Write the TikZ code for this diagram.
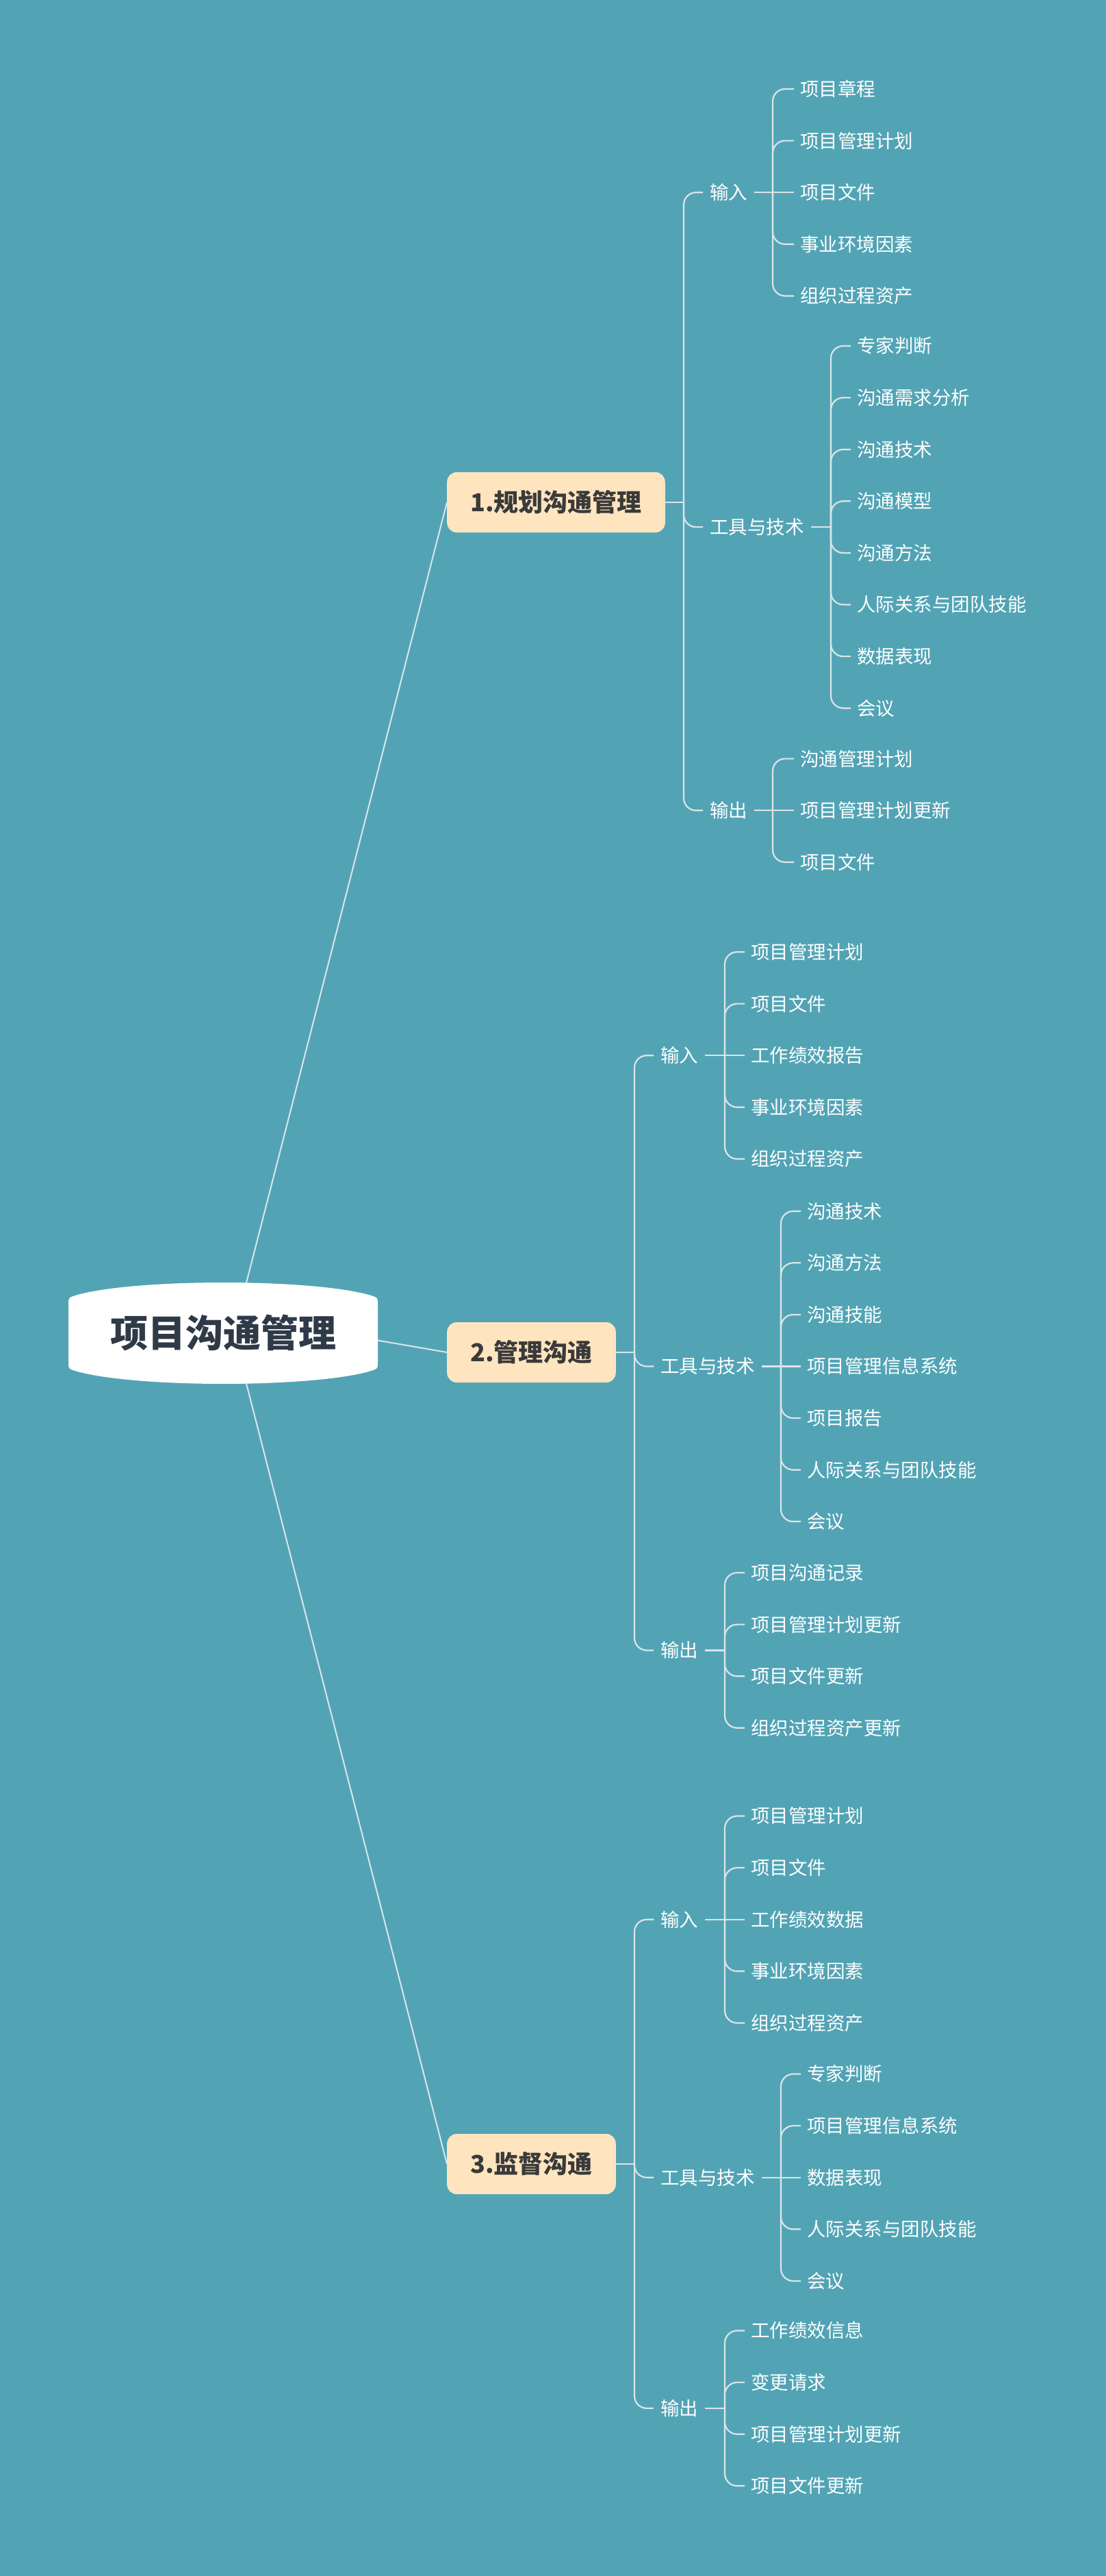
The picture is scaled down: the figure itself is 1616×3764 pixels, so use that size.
\documentclass[tikz,border=0pt]{standalone}
\usepackage{fontspec}
\newfontfamily\cjk{Noto Sans CJK SC}
\definecolor{bgc}{HTML}{52A4B5}
\definecolor{linec}{HTML}{DDE4E8}
\definecolor{brfill}{HTML}{FFE5BF}
\definecolor{brtext}{HTML}{3A3A3A}
\definecolor{roottext}{HTML}{2F3A48}
\tikzset{
  leaf/.style={anchor=west, text=white, font=\cjk\fontsize{27.5}{30}\selectfont,
    inner xsep=9pt, inner ysep=2pt, text height=24.2pt, text depth=3.3pt},
  midlabel/.style={leaf, inner xsep=10pt},
  branch/.style={anchor=west, fill=brfill, text=brtext, rounded corners=14pt,
    font=\cjk\bfseries\fontsize{36}{40}\selectfont, inner xsep=34pt, inner ysep=0pt,
    minimum height=88pt, text height=31.7pt, text depth=4.3pt},
  rootlabel/.style={text=roottext, font=\cjk\bfseries\fontsize{55}{60}\selectfont,
    text height=48.4pt, text depth=6.6pt, inner sep=0pt},
  link/.style={draw=linec, line width=2.2pt},
  elb/.style={link, rounded corners=18pt},
  mainlink/.style={draw=linec, line width=2pt}
}
\newcommand\elbow[3]{\draw[elb] (#1,#2) |- (#3.west);}
\newcommand\straight[3]{\draw[link] (#1,#2) -- (#3.west);}
\begin{document}
\begin{tikzpicture}[x=1pt,y=-1pt]
\fill[bgc] (0,0) rectangle (1616,3764);
\useasboundingbox (0,0) rectangle (1616,3764);

% ---------- branch nodes ----------
\node[branch] (b1) at (653,734) {1.规划沟通管理};
\node[branch] (b2) at (653,1976) {2.管理沟通};
\node[branch] (b3) at (653,3162) {3.监督沟通};

% ---------- root connectors (drawn beneath root) ----------
\coordinate (rc) at (341,1948);
\coordinate (rc2) at (520,1953);
\draw[mainlink] (rc) -- (b1.west);
\draw[mainlink] (rc2) -- (b2.west);
\draw[mainlink] (rc) -- (b3.west);

% ---------- root node ----------
\fill[white] (100,1905) -- (100,1991)
  .. controls (100,2000) .. (113,2004)
  .. controls (200,2028) and (452,2028) .. (539,2004)
  .. controls (552,2000) .. (552,1991)
  -- (552,1905)
  .. controls (552,1896) .. (539,1892)
  .. controls (452,1868) and (200,1868) .. (113,1892)
  .. controls (100,1896) .. (100,1905) -- cycle;
\node[rootlabel] (root) at (326,1948) {项目沟通管理};

% =================== Branch 1 ===================
\node[midlabel] (in1) at (1027,281.2) {输入};
\node[midlabel] (tt1) at (1027,770.1) {工具与技术};
\node[midlabel] (out1) at (1027,1184.2) {输出};
\draw[link] (b1.east) -- (999,734);
\elbow{999}{734}{in1}
\elbow{999}{734}{tt1}
\elbow{999}{734}{out1}

\node[leaf] (a1) at (1160,130) {项目章程};
\node[leaf] (a2) at (1160,205.6) {项目管理计划};
\node[leaf] (a3) at (1160,281.2) {项目文件};
\node[leaf] (a4) at (1160,356.8) {事业环境因素};
\node[leaf] (a5) at (1160,432.4) {组织过程资产};
\draw[link] (in1.east) -- (1129,281.2);
\elbow{1129}{281.2}{a1}
\elbow{1129}{281.2}{a2}
\straight{1129}{281.2}{a3}
\elbow{1129}{281.2}{a4}
\elbow{1129}{281.2}{a5}

\node[leaf] (t1) at (1243,505.5) {专家判断};
\node[leaf] (t2) at (1243,581.1) {沟通需求分析};
\node[leaf] (t3) at (1243,656.7) {沟通技术};
\node[leaf] (t4) at (1243,732.3) {沟通模型};
\node[leaf] (t5) at (1243,807.9) {沟通方法};
\node[leaf] (t6) at (1243,883.5) {人际关系与团队技能};
\node[leaf] (t7) at (1243,959.1) {数据表现};
\node[leaf] (t8) at (1243,1034.7) {会议};
\draw[link] (tt1.east) -- (1214,770.1);
\elbow{1214}{770.1}{t1}
\elbow{1214}{770.1}{t2}
\elbow{1214}{770.1}{t3}
\elbow{1214}{770.1}{t4}
\elbow{1214}{770.1}{t5}
\elbow{1214}{770.1}{t6}
\elbow{1214}{770.1}{t7}
\elbow{1214}{770.1}{t8}

\node[leaf] (o1) at (1160,1108.6) {沟通管理计划};
\node[leaf] (o2) at (1160,1184.2) {项目管理计划更新};
\node[leaf] (o3) at (1160,1259.8) {项目文件};
\draw[link] (out1.east) -- (1129,1184.2);
\elbow{1129}{1184.2}{o1}
\straight{1129}{1184.2}{o2}
\elbow{1129}{1184.2}{o3}

% =================== Branch 2 ===================
\node[midlabel] (in2) at (955,1542.2) {输入};
\node[midlabel] (tt2) at (955,1996.5) {工具与技术};
\node[midlabel] (out2) at (955,2411.4) {输出};
\draw[link] (b2.east) -- (927,1976);
\elbow{927}{1976}{in2}
\elbow{927}{1976}{tt2}
\elbow{927}{1976}{out2}

\node[leaf] (c1) at (1088,1391) {项目管理计划};
\node[leaf] (c2) at (1088,1466.6) {项目文件};
\node[leaf] (c3) at (1088,1542.2) {工作绩效报告};
\node[leaf] (c4) at (1088,1617.8) {事业环境因素};
\node[leaf] (c5) at (1088,1693.4) {组织过程资产};
\draw[link] (in2.east) -- (1059,1542.2);
\elbow{1059}{1542.2}{c1}
\elbow{1059}{1542.2}{c2}
\straight{1059}{1542.2}{c3}
\elbow{1059}{1542.2}{c4}
\elbow{1059}{1542.2}{c5}

\node[leaf] (d1) at (1170,1769.7) {沟通技术};
\node[leaf] (d2) at (1170,1845.3) {沟通方法};
\node[leaf] (d3) at (1170,1920.9) {沟通技能};
\node[leaf] (d4) at (1170,1996.5) {项目管理信息系统};
\node[leaf] (d5) at (1170,2072.1) {项目报告};
\node[leaf] (d6) at (1170,2147.7) {人际关系与团队技能};
\node[leaf] (d7) at (1170,2223.3) {会议};
\draw[link] (tt2.east) -- (1141,1996.5);
\elbow{1141}{1996.5}{d1}
\elbow{1141}{1996.5}{d2}
\elbow{1141}{1996.5}{d3}
\straight{1141}{1996.5}{d4}
\elbow{1141}{1996.5}{d5}
\elbow{1141}{1996.5}{d6}
\elbow{1141}{1996.5}{d7}

\node[leaf] (e1) at (1088,2298) {项目沟通记录};
\node[leaf] (e2) at (1088,2373.6) {项目管理计划更新};
\node[leaf] (e3) at (1088,2449.2) {项目文件更新};
\node[leaf] (e4) at (1088,2524.8) {组织过程资产更新};
\draw[link] (out2.east) -- (1059,2411.4);
\elbow{1059}{2411.4}{e1}
\elbow{1059}{2411.4}{e2}
\elbow{1059}{2411.4}{e3}
\elbow{1059}{2411.4}{e4}

% =================== Branch 3 ===================
\node[midlabel] (in3) at (955,2804.7) {输入};
\node[midlabel] (tt3) at (955,3181.7) {工具与技术};
\node[midlabel] (out3) at (955,3518.9) {输出};
\draw[link] (b3.east) -- (927,3162);
\elbow{927}{3162}{in3}
\elbow{927}{3162}{tt3}
\elbow{927}{3162}{out3}

\node[leaf] (f1) at (1088,2653.5) {项目管理计划};
\node[leaf] (f2) at (1088,2729.1) {项目文件};
\node[leaf] (f3) at (1088,2804.7) {工作绩效数据};
\node[leaf] (f4) at (1088,2880.3) {事业环境因素};
\node[leaf] (f5) at (1088,2955.9) {组织过程资产};
\draw[link] (in3.east) -- (1059,2804.7);
\elbow{1059}{2804.7}{f1}
\elbow{1059}{2804.7}{f2}
\straight{1059}{2804.7}{f3}
\elbow{1059}{2804.7}{f4}
\elbow{1059}{2804.7}{f5}

\node[leaf] (g1) at (1170,3030.5) {专家判断};
\node[leaf] (g2) at (1170,3106.1) {项目管理信息系统};
\node[leaf] (g3) at (1170,3181.7) {数据表现};
\node[leaf] (g4) at (1170,3257.3) {人际关系与团队技能};
\node[leaf] (g5) at (1170,3332.9) {会议};
\draw[link] (tt3.east) -- (1141,3181.7);
\elbow{1141}{3181.7}{g1}
\elbow{1141}{3181.7}{g2}
\straight{1141}{3181.7}{g3}
\elbow{1141}{3181.7}{g4}
\elbow{1141}{3181.7}{g5}

\node[leaf] (h1) at (1088,3405.5) {工作绩效信息};
\node[leaf] (h2) at (1088,3481.1) {变更请求};
\node[leaf] (h3) at (1088,3556.7) {项目管理计划更新};
\node[leaf] (h4) at (1088,3632.3) {项目文件更新};
\draw[link] (out3.east) -- (1059,3518.9);
\elbow{1059}{3518.9}{h1}
\elbow{1059}{3518.9}{h2}
\elbow{1059}{3518.9}{h3}
\elbow{1059}{3518.9}{h4}
\end{tikzpicture}
\end{document}
